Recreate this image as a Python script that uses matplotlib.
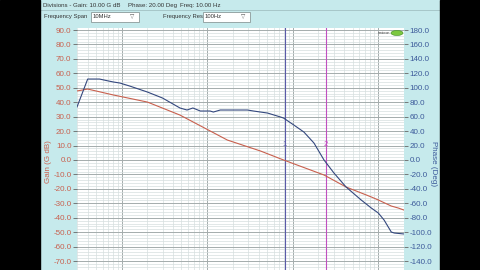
import matplotlib
matplotlib.use("Agg")
import matplotlib.pyplot as plt
from matplotlib.patches import Rectangle, Ellipse
from matplotlib.ticker import MultipleLocator, FormatStrFormatter, LogLocator, NullFormatter

plt.rcParams['axes.unicode_minus'] = False
plt.rcParams['font.family'] = ['Liberation Sans', 'DejaVu Sans']

# gain curve (G dB) vs frequency (Hz)
gain_freq = [300, 400, 500, 800, 2.0e3, 4.8e3, 17.2e3, 42e3, 78e3, 232e3,
             420e3, 828e3, 1.0e6, 1.42e6, 1.72e6, 2.0e6]
gain_db = [47.8, 49.1, 47.8, 45.0, 40.1, 31.1, 13.8, 6.2, 0.0, -10.4,
           -18.7, -25.6, -27.7, -31.9, -33.3, -34.7]

# phase curve (deg) vs frequency (Hz)
phase_freq = [300, 400, 550, 700, 800, 950, 1.24e3, 2.0e3, 3.0e3, 4.8e3,
              5.8e3, 6.8e3, 8.3e3, 10.8e3, 11.8e3, 14.2e3, 29.5e3, 34.8e3,
              42e3, 50.8e3, 72e3, 78e3, 103e3, 135e3, 177e3, 232e3, 303e3,
              420e3, 631e3, 828e3, 1.0e6, 1.17e6, 1.42e6, 1.54e6, 2.0e6]
phase_deg = [73.4, 112.1, 112.1, 109.4, 108.0, 106.6, 102.4, 94.1, 85.8, 72.0,
             69.2, 72.0, 67.8, 67.8, 66.4, 69.2, 69.2, 67.8,
             66.4, 65.0, 59.5, 58.1, 48.4, 38.7, 23.5, 0.0, -18.0,
             -37.4, -55.4, -66.5, -73.4, -83.2, -99.8, -101.2, -102.5]

marker_freq = [80.5e3, 244e3]
marker_names = ["1", "2"]
marker_colors = ["#5a5aa8", "#c050c0"]

bg = "#c6eaec"
red = "#c8604e"
blue = "#34487e"

fig = plt.figure(figsize=(4.8, 2.7), dpi=100)
fig.patch.set_facecolor(bg)
fig.add_artist(Rectangle((0, 0), 40 / 480, 1, transform=fig.transFigure, color="black", zorder=10))
fig.add_artist(Rectangle((440 / 480, 0), 40 / 480, 1, transform=fig.transFigure, color="black", zorder=10))

ax = fig.add_axes([77 / 480, 0, 327 / 480, 242 / 270])
ax.set_facecolor("white")
ax.set_xscale("log")
ax.set_xlim(300, 2.0e6)
ax.set_ylim(-76.2, 91.4)

ax.yaxis.set_major_locator(MultipleLocator(10))
ax.yaxis.set_minor_locator(MultipleLocator(2))
ax.yaxis.set_major_formatter(FormatStrFormatter("%.1f"))
ax.xaxis.set_major_locator(LogLocator(base=10))
ax.xaxis.set_minor_locator(LogLocator(base=10, subs=range(2, 10)))
ax.xaxis.set_major_formatter(NullFormatter())
ax.xaxis.set_minor_formatter(NullFormatter())
ax.tick_params(axis="x", which="both", length=0)
ax.tick_params(axis="y", which="major", labelsize=5.8, labelcolor=red, color="#666666",
               length=3, width=0.6, pad=1)
ax.tick_params(axis="y", which="minor", length=0)
ax.grid(True, which="major", color="#a4acac", linewidth=0.7)
ax.grid(True, which="minor", color="#d6dede", linewidth=0.5)
ax.set_axisbelow(True)
for s in ax.spines.values():
    s.set_visible(False)

ax.plot(gain_freq, gain_db, color=red, linewidth=0.8, zorder=3)
ax.set_ylabel("Gain (G dB)", color=red, fontsize=5.8)
ax.yaxis.set_label_coords(-0.076, 0.45)

for f, name, c in zip(marker_freq, marker_names, marker_colors):
    ax.axvline(f, color=c, linewidth=0.8, zorder=2)
    ax.text(f, 8, name, color=c, fontsize=5.5, ha="center", va="bottom", zorder=4)

ax2 = ax.twinx()
ax2.set_ylim(-152.4, 182.8)
ax2.yaxis.set_major_locator(MultipleLocator(20))
ax2.yaxis.set_major_formatter(FormatStrFormatter("%.1f"))
ax2.tick_params(axis="y", labelsize=5.8, labelcolor="#3c5a9a", color="#666666",
                length=3, width=0.6, pad=1)
for s in ax2.spines.values():
    s.set_visible(False)
ax2.plot(phase_freq, phase_deg, color=blue, linewidth=0.8, zorder=3)
ax2.set_ylabel("Phase (Deg)", color="#3c5a9a", fontsize=5.8, rotation=270, va="center")
ax2.yaxis.set_label_coords(1.089, 0.44)

# logo in the corner of the plot
fig.text(378 / 480, 1 - 33 / 270, "omicron", fontsize=2.5, color="#333333", va="center")
fig.add_artist(Ellipse((397 / 480, 1 - 33 / 270), 12 / 480, 5 / 270, transform=fig.transFigure,
                       facecolor="#7cc840", edgecolor="#3c8a20", linewidth=0.4, zorder=5))

# header
fig.text(43 / 480, 1 - 5.5 / 270, "Divisions - Gain: 10.00 G dB", fontsize=4.4,
         color="#333333", va="center")
fig.text(128 / 480, 1 - 5.5 / 270, "Phase: 20.00 Deg", fontsize=4.4,
         color="#333333", va="center")
fig.text(180 / 480, 1 - 5.5 / 270, "Freq: 10.00 Hz", fontsize=4.4,
         color="#333333", va="center")
fig.add_artist(plt.Line2D([40 / 480, 440 / 480], [1 - 9.5 / 270, 1 - 9.5 / 270],
                          transform=fig.transFigure, color="#9ab8ba", linewidth=0.5))

for lx, label, bx, bw, val in [(44, "Frequency Span", 91, 48, "10MHz"),
                                (163, "Frequency Res", 203, 47, "100Hz")]:
    fig.text(lx / 480, 1 - 16.5 / 270, label, fontsize=4.2, color="#333333", va="center")
    fig.add_artist(Rectangle((bx / 480, 1 - 21.5 / 270), bw / 480, 9.5 / 270,
                             transform=fig.transFigure, facecolor="white",
                             edgecolor="#8a9a9a", linewidth=0.6))
    fig.text((bx + 2) / 480, 1 - 16.5 / 270, val, fontsize=4.2, color="#333333", va="center")
    fig.text((bx + bw - 7) / 480, 1 - 16.5 / 270, "\u25bd", fontsize=4,
             family="DejaVu Sans", color="#555555", va="center", ha="center")

fig.savefig("out.png", dpi=100, facecolor=fig.get_facecolor())
